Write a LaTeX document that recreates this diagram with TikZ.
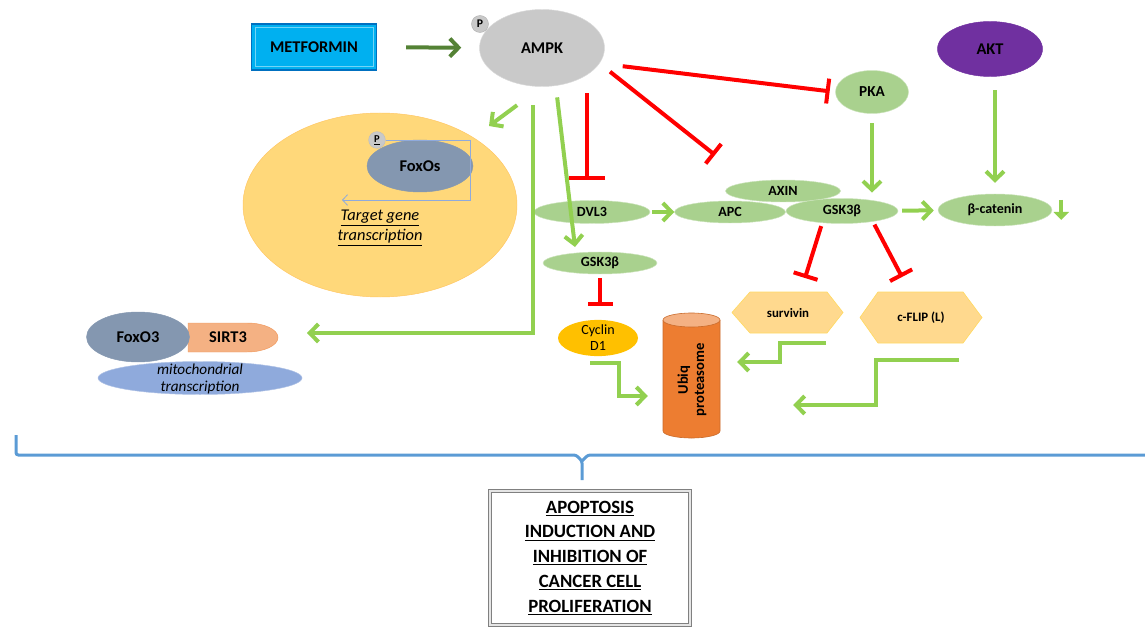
\documentclass[tikz,border=0pt]{standalone}
\usepackage{fontspec}
\setmainfont{Carlito}
\usetikzlibrary{shapes.geometric,arrows.meta}

\definecolor{lgreen}{HTML}{92D050}
\definecolor{dkgreen}{HTML}{548235}
\definecolor{molgreen}{HTML}{A9D18E}
\definecolor{ampkgray}{HTML}{C9C9C9}
\definecolor{nucfill}{HTML}{FFD87A}
\definecolor{foxblue}{HTML}{8497B0}
\definecolor{aktpurple}{HTML}{7030A0}
\definecolor{cycyellow}{HTML}{FFC000}
\definecolor{cylorange}{HTML}{ED7D31}
\definecolor{cyltop}{HTML}{F4B183}
\definecolor{hexfill}{HTML}{FFD98E}
\definecolor{mitoblue}{HTML}{8FAADC}
\definecolor{bracblue}{HTML}{5B9BD5}
\definecolor{metblue}{HTML}{00B0F0}
\definecolor{metline}{HTML}{0070C0}

\begin{document}
\begin{tikzpicture}[x=0.3mm,y=-0.3mm,
    mol/.style={ellipse, inner sep=0pt, fill=molgreen, draw=molgreen!60, font=\bfseries\fontsize{12}{14}\selectfont},
    act/.style={draw=lgreen, line width=1.2mm, -{Straight Barb[length=2.6mm,width=5.4mm]}},
    inh/.style={draw=red, line width=1.2mm, -{Bar[width=7.5mm]}},
    hex/.style={fill=hexfill, draw=cycyellow!60, line width=0.6pt}]
    \useasboundingbox (0,0) rectangle (1145,628);

    % nucleus with FoxOs
    \node[ellipse, fill=nucfill, draw=nucfill!80!orange, minimum width=82.2mm, minimum height=55.2mm] (nuc) at (380,205) {};
    \node[mol, fill=foxblue, draw=foxblue, minimum width=31.8mm, minimum height=15.6mm, font=\bfseries\fontsize{14}{16}\selectfont] (foxos) at (420,166) {FoxOs};
    \node[circle, fill=ampkgray, draw=gray!50, minimum size=5mm, inner sep=0pt, font=\bfseries\fontsize{9}{10}\selectfont] (pfox) at (377,140) {\underline{P}};
    \coordinate (tss) at (342,200);
    \draw[draw=mitoblue, line width=0.7pt, -{Straight Barb[length=1.5mm,width=3.2mm]}] (pfox.east) -- ++(85,0) |- (tss);
    \node[font=\itshape\fontsize{14}{17}\selectfont, align=center] (tgt) at (380,228) {\underline{Target gene}\\\underline{transcription}};

    % top row
    \node[draw=metline, fill=metblue, line width=1pt, minimum width=37.5mm, minimum height=13.8mm, font=\bfseries\fontsize{14}{16}\selectfont] (met) at (314,47) {METFORMIN};
    \draw[metblue!55!white, line width=0.6pt] ([xshift=1.2mm,yshift=-1.2mm]met.north west) rectangle ([xshift=-1.2mm,yshift=1.2mm]met.south east);
    \node[ellipse, fill=ampkgray, draw=gray!30, minimum width=37.5mm, minimum height=23.1mm, inner sep=0pt, font=\bfseries\fontsize{14}{16}\selectfont] (ampk) at (542,48) {AMPK};
    \node[circle, fill=ampkgray, draw=gray!60, minimum size=5.1mm, inner sep=0pt, font=\bfseries\fontsize{10}{12}\selectfont] (pampk) at (480,24) {P};
    \node[mol, minimum width=21.9mm, minimum height=12.9mm, font=\bfseries\fontsize{13}{15}\selectfont] (pka) at (872,92) {PKA};
    \node[mol, fill=aktpurple, draw=aktpurple, minimum width=31.5mm, minimum height=16.5mm, font=\bfseries\fontsize{14}{16}\selectfont] (akt) at (990,49) {AKT};

    % Wnt row
    \node[mol, minimum width=34.8mm, minimum height=6.9mm] (dvl) at (592,212) {DVL3};
    \node[mol, minimum width=34.5mm, minimum height=6.6mm] (axin) at (783,191) {AXIN};
    \node[mol, minimum width=33.3mm, minimum height=6.6mm] (apc) at (730,212) {APC};
    \node[mol, minimum width=33.6mm, minimum height=7.5mm] (gsku) at (842,211) {GSK3β};
    \node[mol, minimum width=34.2mm, minimum height=9.6mm] (bcat) at (995,210) {β-catenin};
    \node[mol, minimum width=34.2mm, minimum height=6.6mm] (gskb) at (600,263) {GSK3β};

    % targets
    \node[ellipse, fill=cycyellow, inner sep=0pt, minimum width=24mm, minimum height=9mm, align=center, font=\fontsize{12}{13.5}\selectfont] (cyc) at (598,338) {Cyclin\\D1};
    \node[minimum width=17.1mm, minimum height=37.5mm, inner sep=0pt] (ubq) at (691.5,375.5) {};
    \draw[fill=cylorange, draw=cylorange!85!black, line width=0.5pt] (663,320) -- (663,431) arc[start angle=180, end angle=0, x radius=28.5, y radius=7] -- (720,320);
    \draw[fill=cyltop, draw=cylorange!85!black, line width=0.5pt] (691.5,320) ellipse[x radius=28.5, y radius=7];
    \node[rotate=90, align=center, font=\bfseries\fontsize{12.5}{14}\selectfont] (ubqtxt) at (692,380) {Ubiq\\proteasome};
    \draw[hex] (732,312.5) -- (750,292) -- (827,292) -- (843,312.5) -- (827,333) -- (750,333) -- cycle;
    \node[font=\bfseries\fontsize{11}{13}\selectfont] (surv) at (788,313) {survivin};
    \draw[hex] (860,317.5) -- (878,292) -- (963,292) -- (982,317.5) -- (963,343) -- (878,343) -- cycle;
    \node[font=\bfseries\fontsize{11}{13}\selectfont] (cflip) at (921,318) {c-FLIP (L)};

    % mitochondria
    \node[ellipse, fill=mitoblue, draw=mitoblue!70, minimum width=61.2mm, minimum height=9.9mm, inner sep=0pt] (mito) at (200,378) {};
    \node[align=center, font=\itshape\fontsize{13}{15}\selectfont] (mitotxt) at (200,379) {mitochondrial\\transcription};
    \draw[fill=cyltop, draw=cylorange!80] (188,323) -- (247,323) arc[start angle=-90, end angle=90, x radius=31, y radius=14.5] -- (188,352) -- cycle;
    \node[font=\bfseries\fontsize{14}{16}\selectfont] (sirt) at (228,337) {SIRT3};
    \node[mol, fill=foxblue, draw=foxblue, minimum width=30.9mm, minimum height=15mm, font=\bfseries\fontsize{14}{16}\selectfont] (foxo3) at (138,337) {FoxO3};

    % connectors
    \coordinate (dvlbar) at (587,180);
    \coordinate (axbar) at (715,155);
    \coordinate (nucin) at (489,126);
    \coordinate (mitoturn) at (533,333);
    \coordinate (sirtin) at (307,333);
    \coordinate (gskin) at (575,247);
    \coordinate (svbar) at (805,278);
    \coordinate (cfbar) at (902,277);
    \coordinate (cycout) at (590,363);
    \coordinate (svout) at (826,343);
    \coordinate (cfout) at (959,360);

    \draw[act, draw=dkgreen, shorten <=8.7mm, shorten >=5.4mm] (met) -- (ampk);
    \draw[inh, shorten <=7mm, shorten >=1.7mm] (ampk.-15) -- (pka.west);
    \draw[inh, shorten <=4mm] (ampk.-15) -- (axbar);
    \draw[inh, -{Bar[width=10.8mm]}, shorten <=2mm] (dvlbar |- ampk.south) -- (dvlbar);
    \draw[act, shorten <=9.3mm] (ampk.south) -- (nucin);
    \draw[act, line join=miter, shorten <=5.6mm] (mitoturn |- ampk.south) -- (mitoturn) -- (sirtin);
    \draw[act, shorten <=3.5mm] (ampk.-70) -- (gskin);
    \draw[act, shorten <=2.9mm, shorten >=1.7mm] (pka.south) -- (pka.south |- gsku.north);
    \draw[act, shorten <=4mm, shorten >=3.3mm] (akt.south -| bcat.north) -- (bcat.north);
    \draw[act, shorten <=0.6mm] (dvl) -- (apc);
    \draw[act, shorten <=1.2mm, shorten >=1.2mm] (gsku) -- (bcat);
    \draw[draw=lgreen, line width=1.3mm, -{Triangle[length=2.4mm,width=4.5mm]}] ([xshift=2.7mm,yshift=3mm]bcat.east) -- ++(0,20);
    \draw[inh, shorten <=1.2mm, shorten >=4mm] (gskb.south) -- (gskb.south |- cyc.north);
    \draw[inh, shorten <=1mm] (gsku.-149) -- (svbar);
    \draw[inh, shorten <=1mm] (gsku.-19) -- (cfbar);
    \draw[act, line join=miter, shorten >=4.5mm] (cycout) -- ++(29,0) |- ([yshift=-6.15mm]ubq.west);
    \draw[act, line join=miter, shorten >=5.1mm] (svout) -- ++(-46,0) |- ([yshift=4.05mm]ubq.east);
    \draw[act, line join=miter, shorten >=21.9mm] (cfout) -- ++(-83,0) |- ([yshift=-8.85mm]ubq.east);

    % brace and outcome
    \node[draw=gray, double=gray!20, double distance=1.6pt, line width=0.8pt, minimum width=60mm, minimum height=40mm, align=center,
          font=\bfseries\fontsize{16}{21.3}\selectfont] (outc) at (590,558) {\underline{APOPTOSIS}\\\underline{INDUCTION AND}\\\underline{INHIBITION OF}\\\underline{CANCER CELL}\\\underline{PROLIFERATION}};
    \coordinate (tip) at (582,480);
    \draw[draw=bracblue, line width=0.9mm, rounded corners=2pt] (16,435) |- (576,455) -- (582,461) -- (tip);
    \draw[draw=bracblue, line width=0.9mm, rounded corners=2pt] (582,461) -- (588,455) -- (1145,455);
\end{tikzpicture}
\end{document}
